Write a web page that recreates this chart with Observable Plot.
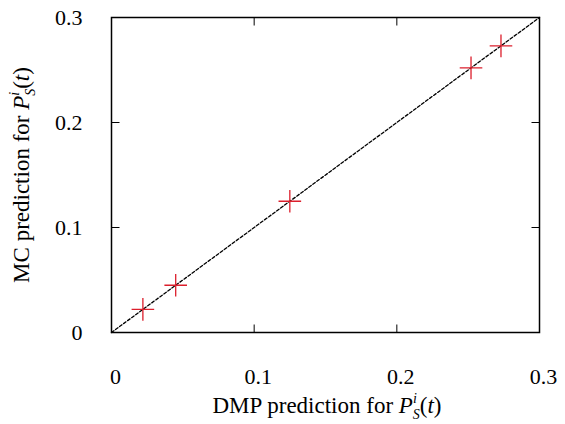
<!DOCTYPE html>
<html>
<head>
<meta charset="utf-8">
<script src="https://cdn.jsdelivr.net/npm/d3@7"></script>
<script src="https://cdn.jsdelivr.net/npm/@observablehq/plot@0.6"></script>
<style>
  html, body { margin: 0; padding: 0; background: white; }
</style>
</head>
<body>
<div id="chart"></div>
<script>
// Data
const xTicks = [0, 0.1, 0.2, 0.3];
const yTicks = [0, 0.1, 0.2, 0.3];
const innerTicks = [0.1, 0.2];
const dmpPrediction = [0.022, 0.045, 0.125, 0.252, 0.273];
const mcPrediction  = [0.022, 0.045, 0.125, 0.252, 0.273];
const diagonal = [0, 0.3];

const points = dmpPrediction.map((x, i) => ({x, y: mcPrediction[i]}));
const diag = diagonal.map(v => ({x: v, y: v}));

const FONT = "Liberation Serif, DejaVu Serif, Times New Roman, serif";

function seg(dx, dy) {
  return {
    draw(ctx, size) {
      const r = Math.sqrt(size / Math.PI);
      ctx.moveTo(0, 0);
      ctx.lineTo(dx * r, dy * r);
    }
  };
}
const plusSymbol = {
  draw(ctx, size) {
    const r = Math.sqrt(size / Math.PI);
    ctx.moveTo(-r, 0); ctx.lineTo(r, 0);
    ctx.moveTo(0, -r); ctx.lineTo(0, r);
  }
};

const tickLen = 8;
const chart = Plot.plot({
  width: 565,
  height: 424,
  marginLeft: 111,
  marginRight: 26,
  marginTop: 17,
  marginBottom: 92,
  x: {domain: [0, 0.3]},
  y: {domain: [0, 0.3]},
  style: {fontFamily: FONT, fontSize: "22px", background: "white", color: "black"},
  marks: [
    Plot.line(diag, {x: "x", y: "y", stroke: "black", strokeWidth: 1.3, strokeDasharray: "3,2"}),
    Plot.dot(points, {x: "x", y: "y", symbol: plusSymbol, r: 11.3, stroke: "#dc1f2c", strokeWidth: 1.3, fill: "none"}),
    // inward ticks on all four sides
    Plot.dot(innerTicks, {x: d => d, y: () => 0, symbol: seg(0, -1), r: tickLen, stroke: "black", strokeWidth: 1}),
    Plot.dot(innerTicks, {x: d => d, y: () => 0.3, symbol: seg(0, 1), r: tickLen, stroke: "black", strokeWidth: 1}),
    Plot.dot(innerTicks, {x: () => 0, y: d => d, symbol: seg(1, 0), r: tickLen, stroke: "black", strokeWidth: 1}),
    Plot.dot(innerTicks, {x: () => 0.3, y: d => d, symbol: seg(-1, 0), r: tickLen, stroke: "black", strokeWidth: 1}),
    Plot.frame({stroke: "black", strokeWidth: 1.5}),
    Plot.axisX({ticks: xTicks, tickSize: 0, tickPadding: 36, dx: 4, label: null, tickFormat: d => String(d), fontSize: 22, fontFamily: FONT}),
    Plot.axisY({ticks: yTicks, tickSize: 0, tickPadding: 29, label: null, tickFormat: d => String(d), fontSize: 22, fontFamily: FONT})
  ]
});
document.getElementById("chart").appendChild(chart);

// Axis titles with math sub/superscripts
const svg = d3.select(chart);
function mathLabel(g, prefix) {
  const t = g.append("text")
    .attr("font-family", FONT)
    .attr("font-size", 23)
    .attr("fill", "black")
    .attr("text-anchor", "middle");
  t.append("tspan").text(prefix);
  t.append("tspan").attr("font-style", "italic").text("P");
  t.append("tspan").attr("font-style", "italic").attr("font-size", 14).attr("dy", -10).text("i");
  t.append("tspan").attr("font-style", "italic").attr("font-size", 14).attr("dx", -4).attr("dy", 16).text("S");
  t.append("tspan").attr("dy", -6).text("(");
  t.append("tspan").attr("font-style", "italic").text("t");
  t.append("tspan").text(")");
  return t;
}
mathLabel(svg.append("g").attr("transform", "translate(327,413)"), "DMP prediction for ");
mathLabel(svg.append("g").attr("transform", "translate(29,175) rotate(-90)"), "MC prediction for ");
</script>
</body>
</html>
